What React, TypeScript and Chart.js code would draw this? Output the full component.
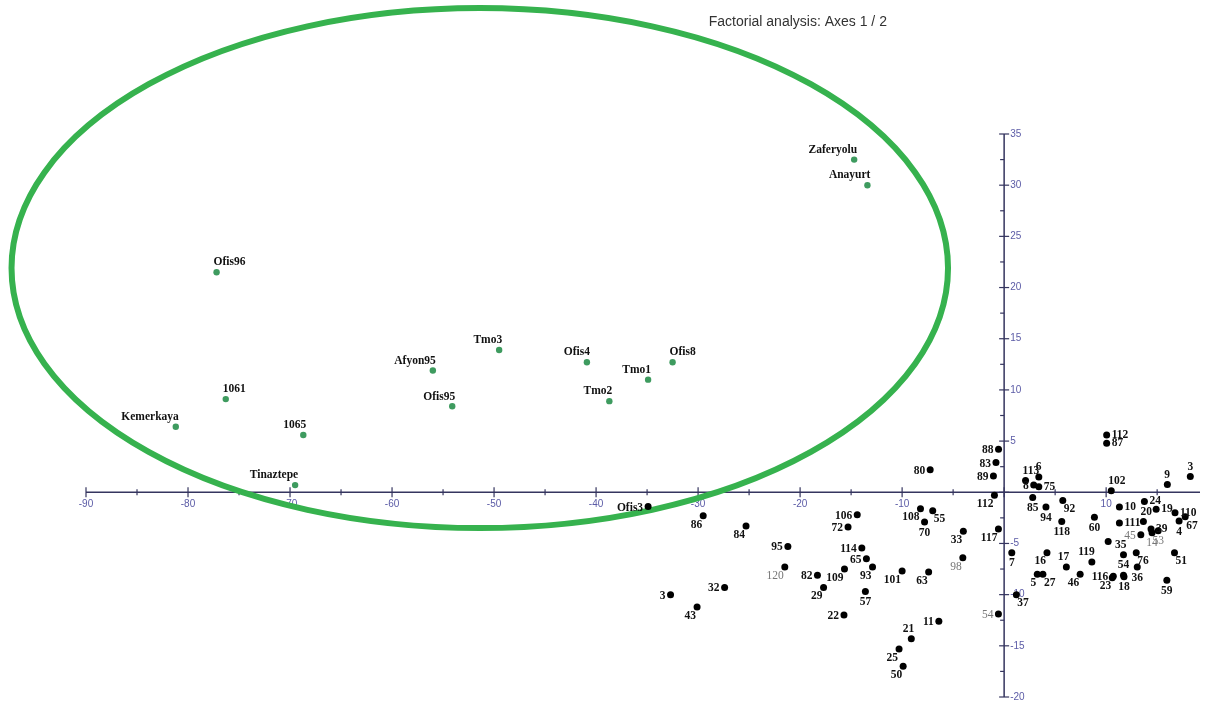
import { useEffect, useRef } from 'react';
import { Chart, registerables } from 'chart.js';

Chart.register(...registerables);

// ---------- data ----------
const chartTitle = 'Factorial analysis: Axes 1 / 2';

// active observations (green, inside the ellipse)
const greenNames = ['Zaferyolu', 'Anayurt', 'Ofis96', '1061', 'Kemerkaya', '1065', 'Tinaztepe', 'Afyon95', 'Ofis95', 'Tmo3', 'Ofis4', 'Ofis8', 'Tmo1', 'Tmo2'];
const greenX = [-14.7, -13.4, -77.2, -76.3, -81.2, -68.7, -69.5, -56.0, -54.1, -49.5, -40.9, -32.5, -34.9, -38.7];
const greenY = [32.5, 30.0, 21.5, 9.1, 6.4, 5.6, 0.7, 11.9, 8.4, 13.9, 12.7, 12.7, 11.0, 8.9];

// other observations (black)
const blackNames = [
  'Ofis3', '86', '84', '95', '120', '32', '3', '43', '82', '29',
  '109', '22', '106', '72', '114', '65', '93', '57', '101', '63',
  '108', '55', '70', '33', '98', '117', '112', '89', '83', '88',
  '80', '11', '21', '25', '50', '54', '7', '37', '113', '6',
  '8', '75', '85', '94', '92', '118', '16', '5', '27', '17',
  '46', '119', '116', '23', '54', '18', '35', '', '60', '76',
  '36', '51', '59', '112', '87', '102', '9', '3', '10', '24',
  '19', '110', '4', '67', '111', '20', '45', '39', '14', '53',
];
const blackX = [
  -34.9, -29.5, -25.3, -21.2, -21.5, -27.4, -32.7, -30.1, -18.3, -17.7,
  -15.65, -15.7, -14.4, -15.3, -13.95, -13.5, -12.9, -13.6, -10.0, -7.4,
  -8.2, -7.0, -7.8, -4.0, -4.05, -0.56, -0.95, -1.05, -0.8, -0.55,
  -7.25, -6.4, -9.1, -10.3, -9.9, -0.56, 0.75, 1.2, 2.1, 3.4,
  2.9, 3.4, 2.8, 4.1, 5.75, 5.65, 4.2, 3.25, 3.8, 6.1,
  7.45, 8.6, 10.7, 10.6, 11.7, 11.75, 11.7, 10.2, 8.85, 12.95,
  13.05, 16.7, 15.95, 10.05, 10.05, 10.5, 16.0, 18.25, 11.3, 13.75,
  14.9, 16.75, 17.15, 17.75, 11.3, 13.65, 13.4, 14.4, 14.5, 15.1,
];
const blackY = [
  -1.4, -2.3, -3.3, -5.3, -7.3, -9.3, -10.0, -11.2, -8.1, -9.3,
  -7.5, -12.0, -2.2, -3.4, -5.45, -6.5, -7.3, -9.7, -7.7, -7.8,
  -1.6, -1.8, -2.9, -3.8, -6.4, -3.6, -0.3, 1.6, 2.9, 4.2,
  2.2, -12.6, -14.3, -15.3, -17.0, -11.9, -5.9, -10.0, 1.15, 1.5,
  0.7, 0.55, -0.5, -1.45, -0.8, -2.85, -5.9, -8.0, -8.0, -7.3,
  -8.0, -6.8, -8.2, -8.35, -8.1, -8.25, -6.1, -4.8, -2.45, -5.9,
  -7.3, -5.9, -8.6, 5.6, 4.8, 0.15, 0.75, 1.55, -1.45, -0.9,
  -1.65, -2.0, -2.8, -2.4, -3.0, -2.85, -4.15, -3.6, -3.95, -3.75,
];

// confidence ellipse around the active group (data units)
const ellipseCenterX = -51.4;
const ellipseCenterY = 21.9;
const ellipseRadiusX = 45.9;
const ellipseRadiusY = 25.4;

// axis ranges / tick steps
const xMin = -90;
const xMax = 19.2;
const yMin = -20;
const yMax = 35;
const xStep = 5;
const yStep = 2.5;

// ---------- label placement / style (kept apart from the data) ----------
const greenLabelPos = ['nw', 'nw', 'ne', 'ne', 'nw', 'nw', 'nw', 'nw', 'nw', 'nw', 'nw', 'ne', 'nw', 'nw'];
const blackLabelPos = [
  'w', 'sw', 'sw', 'w', 'sw', 'w', 'w', 'sw', 'w', 'sw',
  'sw', 'w', 'w', 'w', 'w', 'w', 'sw', 's', 'sw', 'sw',
  'sw', 'se', 's', 'sw', 'sw', 'sw', 'sw', 'w', 'w', 'w',
  'w', 'w', 'nw', 'sw', 'sw', 'w', 's', 'se', 'ne', 'ne',
  'w', 'e', 's', 's', 'se', 's', 'sw', 'sw', 'se', 'nw',
  'sw', 'nw', 'w', 'sw', 'n', 's', 'nw', 's', 's', 'se',
  's', 'se', 's', 'e', 'e', 'ne', 'ne', 'n', 'e', 'e',
  'e', 'e', 's', 'se', 'e', 'ne', 'w', 'e', 's', 's',
];
const mutedLabels = [4, 24, 35, 76, 78, 79]; // indices of black points whose labels are grey

const AXIS_COLOR = '#35355f';
const TICK_TEXT = '#5b5ba6';
const GREEN_POINT = '#3e9b5f';
const ELLIPSE_COLOR = '#36b24e';
const LABEL_FONT = 'bold 11.5px "Liberation Serif", "Times New Roman", serif';
const MUTED_FONT = '11.5px "Liberation Serif", "Times New Roman", serif';

function drawLabel(ctx: CanvasRenderingContext2D, text: string, x: number, y: number, pos: string) {
  if (!text) return;
  let tx = x, ty = y;
  let align: CanvasTextAlign = 'center';
  let base: CanvasTextBaseline = 'middle';
  switch (pos) {
    case 'n': align = 'center'; base = 'bottom'; ty = y - 4; break;
    case 'nw': align = 'right'; base = 'bottom'; tx = x + 3; ty = y - 4; break;
    case 'ne': align = 'left'; base = 'bottom'; tx = x - 3; ty = y - 4; break;
    case 'w': align = 'right'; base = 'middle'; tx = x - 5; ty = y + 1; break;
    case 'e': align = 'left'; base = 'middle'; tx = x + 5; ty = y; break;
    case 'sw': align = 'right'; base = 'top'; tx = x - 1; ty = y + 3; break;
    case 'se': align = 'left'; base = 'top'; tx = x + 1; ty = y + 3; break;
    case 's': align = 'center'; base = 'top'; ty = y + 5; break;
  }
  ctx.textAlign = align;
  ctx.textBaseline = base;
  ctx.fillText(text, tx, ty);
}

const crossAxesPlugin = {
  id: 'crossAxes',
  beforeDatasetsDraw(chart: any) {
    const { ctx } = chart;
    const xs = chart.scales.x;
    const ys = chart.scales.y;
    const x0 = xs.getPixelForValue(0);
    const y0 = ys.getPixelForValue(0);
    ctx.save();
    ctx.strokeStyle = AXIS_COLOR;
    ctx.lineWidth = 1.5;
    ctx.beginPath();
    ctx.moveTo(xs.left, y0);
    ctx.lineTo(xs.right, y0);
    ctx.moveTo(x0, ys.top);
    ctx.lineTo(x0, ys.bottom);
    ctx.stroke();

    ctx.lineWidth = 1.2;
    ctx.fillStyle = TICK_TEXT;
    ctx.font = '10px "Liberation Sans", Arial, sans-serif';
    for (const t of xs.ticks) {
      const v = t.value;
      const px = xs.getPixelForValue(v);
      const major = Math.abs(v % 10) < 1e-9;
      const h = major ? 5 : 3;
      ctx.beginPath();
      ctx.moveTo(px, y0 - h);
      ctx.lineTo(px, y0 + h);
      ctx.stroke();
      if (major && v !== 0) {
        ctx.textAlign = 'center';
        ctx.textBaseline = 'top';
        ctx.fillText(String(v), px, y0 + 7);
      }
    }
    for (const t of ys.ticks) {
      const v = t.value;
      const py = ys.getPixelForValue(v);
      const major = Math.abs(v % 5) < 1e-9;
      ctx.beginPath();
      if (major) {
        ctx.moveTo(x0 - 5, py);
        ctx.lineTo(x0 + 5, py);
      } else {
        ctx.moveTo(x0 - 4, py);
        ctx.lineTo(x0, py);
      }
      ctx.stroke();
      if (major && v !== 0) {
        ctx.textAlign = 'left';
        ctx.textBaseline = 'middle';
        ctx.fillText(String(v), x0 + 6, py);
      }
    }

    // ellipse around the active group
    const cx = xs.getPixelForValue(ellipseCenterX);
    const cy = ys.getPixelForValue(ellipseCenterY);
    const rx = Math.abs(xs.getPixelForValue(ellipseCenterX + ellipseRadiusX) - cx);
    const ry = Math.abs(ys.getPixelForValue(ellipseCenterY + ellipseRadiusY) - cy);
    ctx.strokeStyle = ELLIPSE_COLOR;
    ctx.lineWidth = 6;
    ctx.beginPath();
    ctx.ellipse(cx, cy, rx, ry, 0, 0, Math.PI * 2);
    ctx.stroke();
    ctx.restore();
  },
};

const labelsPlugin = {
  id: 'pointLabels',
  afterDatasetsDraw(chart: any) {
    const { ctx } = chart;
    ctx.save();
    const sets = [
      { names: greenNames, pos: greenLabelPos, muted: [] as number[] },
      { names: blackNames, pos: blackLabelPos, muted: mutedLabels },
    ];
    sets.forEach((s, di) => {
      const meta = chart.getDatasetMeta(di);
      meta.data.forEach((el: any, i: number) => {
        const isMuted = s.muted.includes(i);
        ctx.fillStyle = isMuted ? '#777777' : '#111111';
        ctx.font = isMuted ? MUTED_FONT : LABEL_FONT;
        drawLabel(ctx, s.names[i], el.x, el.y, s.pos[i]);
      });
    });
    ctx.restore();
  },
};

const titlePlugin = {
  id: 'plotTitle',
  afterDraw(chart: any) {
    const { ctx, chartArea } = chart;
    ctx.save();
    ctx.fillStyle = '#333333';
    ctx.font = '14px "Liberation Sans", Arial, sans-serif';
    ctx.textAlign = 'center';
    ctx.textBaseline = 'middle';
    ctx.fillText(chartTitle, chartArea.left + chartArea.width * 0.639, 22);
    ctx.restore();
  },
};

export default function App() {
  const ref = useRef<HTMLCanvasElement>(null);
  useEffect(() => {
    const canvas = ref.current;
    if (!canvas) return;
    const chart = new Chart(canvas, {
      type: 'scatter',
      data: {
        datasets: [
          {
            label: 'Active',
            data: greenX.map((x, i) => ({ x, y: greenY[i] })),
            backgroundColor: GREEN_POINT,
            borderColor: GREEN_POINT,
            pointRadius: 3.2,
            pointHoverRadius: 3.2,
            borderWidth: 0,
          },
          {
            label: 'Observations',
            data: blackX.map((x, i) => ({ x, y: blackY[i] })),
            backgroundColor: '#000000',
            borderColor: '#000000',
            pointRadius: 3.5,
            pointHoverRadius: 3.5,
            borderWidth: 0,
          },
        ],
      },
      options: {
        responsive: false,
        animation: false,
        events: [],
        layout: { padding: { left: 86, right: 7, top: 134, bottom: 4 } },
        scales: {
          x: { type: 'linear', min: xMin, max: xMax, display: false, ticks: { stepSize: xStep, includeBounds: false } },
          y: { type: 'linear', min: yMin, max: yMax, display: false, ticks: { stepSize: yStep, includeBounds: false } },
        },
        plugins: {
          legend: { display: false },
          tooltip: { enabled: false },
          title: { display: false },
        },
      },
      plugins: [crossAxesPlugin, labelsPlugin, titlePlugin],
    });
    return () => chart.destroy();
  }, []);
  return (
    <div style={{ position: 'absolute', left: 0, top: 0, width: 1207, height: 701, background: '#ffffff' }}>
      <canvas ref={ref} width={1207} height={701} style={{ display: 'block' }} />
    </div>
  );
}
